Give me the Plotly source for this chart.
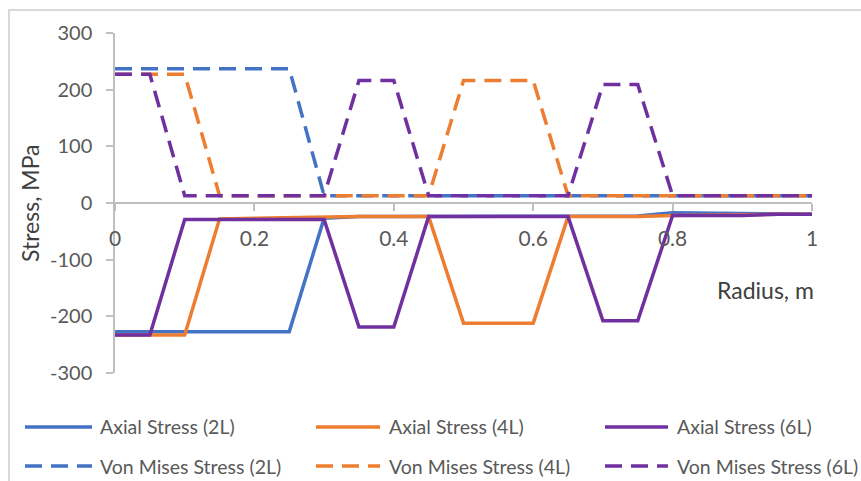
import plotly.graph_objects as go

# Radial positions (m)
radius = [0, 0.05, 0.1, 0.15, 0.2, 0.25, 0.3, 0.35, 0.4, 0.45, 0.5,
          0.55, 0.6, 0.65, 0.7, 0.75, 0.8, 0.85, 0.9, 0.95, 1.0]

# Stresses (MPa)
axial_2l = [-227, -227, -227, -227, -227, -227, -27, -24, -24, -24, -24,
            -24, -24, -24, -24, -23, -17, -18, -19, -20, -20]
axial_4l = [-233, -233, -233, -28, -27, -26, -24, -24, -24, -24, -212,
            -212, -212, -24, -24, -24, -22, -21, -21, -20, -20]
axial_6l = [-233, -233, -29, -29, -29, -29, -29, -219, -219, -24, -24,
            -24, -24, -24, -208, -208, -22, -22, -22, -20, -20]
mises_2l = [237, 237, 237, 237, 237, 237, 13, 13, 13, 13, 13,
            13, 13, 13, 13, 13, 13, 13, 13, 13, 13]
mises_4l = [227, 227, 227, 13, 13, 13, 13, 13, 13, 13, 216,
            216, 216, 13, 13, 13, 13, 13, 13, 13, 13]
mises_6l = [227, 227, 13, 13, 13, 13, 13, 216, 216, 13, 13,
            13, 13, 13, 209, 209, 13, 13, 13, 13, 13]

series_names = ["Axial Stress (2L)", "Axial Stress (4L)", "Axial Stress (6L)",
                "Von Mises Stress (2L)", "Von Mises Stress (4L)", "Von Mises Stress (6L)"]
series_values = [axial_2l, axial_4l, axial_6l, mises_2l, mises_4l, mises_6l]
series_colors = ["#4472C4", "#ED7D31", "#7030A0", "#4472C4", "#ED7D31", "#7030A0"]
series_dash = ["solid", "solid", "solid", "17px,9px", "17px,9px", "17px,9px"]

x_ticks = [0, 0.2, 0.4, 0.6, 0.8, 1]
x_tick_text = ["0", "0.2", "0.4", "0.6", "0.8", "1"]
y_ticks = [-300, -200, -100, 0, 100, 200, 300]
y_tick_text = ["-300", "-200", "-100", "0", "100", "200", "300"]

FONT = "Lato, 'Open Sans', sans-serif"
TEXT = "#595959"
TITLE = "#404040"
AXIS = "#BFBFBF"

W, H = 861, 481
L, R, T, B = 115, 49, 33, 108
PW, PH = W - L - R, H - T - B


def px(xp):
    return (xp - L) / PW


def py(yp):
    return (H - B - yp) / PH


fig = go.Figure()
for name, vals, col, dash in zip(series_names, series_values, series_colors, series_dash):
    fig.add_trace(go.Scatter(
        x=radius, y=vals, mode="lines", name=name, showlegend=False,
        line=dict(color=col, width=3.5, dash=dash),
    ))

# Legend keys: two rows of three entries
legend_cols = [(25, 92, 98), (316, 380, 387), (605, 668, 675)]
legend_rows = [427, 466]
shapes = []
annotations = []
for i, name in enumerate(series_names):
    c0, c1, tx = legend_cols[i % 3]
    ry = legend_rows[i // 3]
    shapes.append(dict(type="line", xref="paper", yref="paper",
                       x0=px(c0), x1=px(c1), y0=py(ry), y1=py(ry),
                       line=dict(color=series_colors[i], width=3.5, dash=series_dash[i])))
    annotations.append(dict(xref="paper", yref="paper", x=px(tx), y=py(ry),
                            xanchor="left", yanchor="middle", showarrow=False,
                            text=name, font=dict(family=FONT, size=19.5, color=TEXT)))

# Chart frame
shapes.append(dict(type="rect", xref="paper", yref="paper",
                   x0=px(9), x1=px(900), y0=py(10), y1=py(520),
                   line=dict(color="#D9D9D9", width=2), layer="below"))

# Axis titles
annotations.append(dict(xref="paper", yref="y", x=px(816), y=-153,
                        xanchor="right", yanchor="middle", showarrow=False,
                        text="Radius, m", font=dict(family=FONT, size=23, color=TITLE)))
annotations.append(dict(xref="paper", yref="y", x=px(30), y=0,
                        xanchor="center", yanchor="middle", showarrow=False,
                        textangle=-90,
                        text="Stress, MPa", font=dict(family=FONT, size=23, color=TITLE)))

fig.update_layout(
    width=W, height=H,
    margin=dict(l=L, r=R, t=T, b=B),
    paper_bgcolor="white", plot_bgcolor="white",
    font=dict(family=FONT, size=18, color=TEXT),
    shapes=shapes, annotations=annotations,
    xaxis=dict(range=[0, 1], tickvals=x_ticks, ticktext=x_tick_text,
               anchor="free", position=0.5, showgrid=False, zeroline=False,
               showline=True, linecolor=AXIS, linewidth=1.5,
               ticks="outside", ticklen=7, tickcolor=AXIS, tickwidth=1.5,
               ticklabelstandoff=10, tickfont=dict(size=21, color=TEXT)),
    yaxis=dict(range=[-300, 300], tickvals=y_ticks, ticktext=y_tick_text,
               showgrid=False, zeroline=False,
               showline=True, linecolor=AXIS, linewidth=1.5,
               ticks="outside", ticklen=7, tickcolor=AXIS, tickwidth=1.5,
               ticklabelstandoff=10, tickfont=dict(size=20, color=TEXT),
               automargin=False),
)

fig.write_html("out.html")
